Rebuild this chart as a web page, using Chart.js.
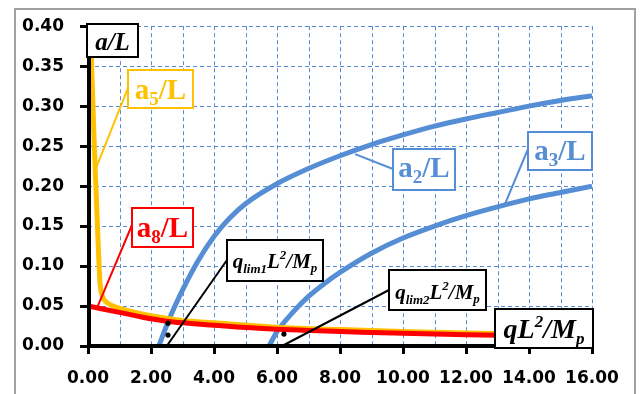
<!DOCTYPE html>
<html>
<head>
<meta charset="utf-8">
<script src="https://cdn.jsdelivr.net/npm/chart.js@4.4.1/dist/chart.umd.min.js"></script>
<style>
  html, body { margin: 0; padding: 0; background: #fff; }
  canvas { display: block; }
</style>
</head>
<body>
<canvas id="chart" width="643" height="394"></canvas>
<script>
// values (x = qL^2/Mp, y = a/L)
const a8X = [0, 0.5, 1, 1.5, 2, 2.5, 3, 4, 5, 6, 7, 8, 9, 10, 11, 12, 13, 14, 15, 16]
const a8Y = [0.050, 0.046, 0.042, 0.038, 0.034, 0.031, 0.029, 0.026, 0.023, 0.021, 0.0195, 0.018, 0.017, 0.016, 0.015, 0.0142, 0.0135, 0.013, 0.0122, 0.0116]

const a5X = [0.1, 0.2, 0.3, 0.38, 0.45, 0.55, 0.8, 1.1, 1.5, 2, 3, 4, 6, 8, 10, 12, 14, 16]
const a5Y = [0.37, 0.25, 0.15, 0.08, 0.063, 0.056, 0.05, 0.046, 0.042, 0.038, 0.032, 0.029, 0.0235, 0.0205, 0.0182, 0.0163, 0.015, 0.0138]

const a2X = [2.25, 2.5, 2.75, 3, 3.5, 4, 4.5, 5, 6, 7, 8, 9, 10, 11, 12, 13, 14, 15, 16]
const a2Y = [0, 0.026, 0.049, 0.07, 0.107, 0.137, 0.16, 0.178, 0.203, 0.222, 0.238, 0.252, 0.264, 0.275, 0.284, 0.292, 0.3, 0.307, 0.313]

const a3X = [5.75, 6, 6.5, 7, 7.5, 8, 9, 10, 11, 12, 13, 14, 15, 16]
const a3Y = [0, 0.018, 0.042, 0.062, 0.078, 0.092, 0.116, 0.135, 0.15, 0.163, 0.174, 0.184, 0.192, 0.2]

// small black dots near the limit loads
const markerX = [2.54, 2.54, 6.22]
const markerY = [0.0286, 0.0137, 0.0149]

const xGrid = [0, 1, 2, 3, 4, 5, 6, 7, 8, 9, 10, 11, 12, 13, 14, 15, 16]
const xLabels = [0, 2, 4, 6, 8, 10, 12, 14, 16]
const yLabels = [0, 0.05, 0.1, 0.15, 0.2, 0.25, 0.3, 0.35, 0.4]

const BLUE = '#558ED5'
const GOLD = '#FFC000'
const RED = '#FF0000'
const GRID = '#5A8AD2'

const pts = (xs, ys) => xs.map((x, i) => ({ x, y: ys[i] }))

// callout labels: box in px [x, y, w, h], baseline y, leader start px, leader end in data units
const callouts = [
  { box: [87, 24, 51, 33], base: 50, color: '#000', runs: [['a/L', 25, true, 0]] },
  { box: [128, 70, 65, 38], base: 99, color: GOLD, from: [128, 88], to: [0.22, 0.219],
    runs: [['a', 29, false, 0], ['5', 19, false, 6], ['/L', 29, false, 0]] },
  { box: [132, 208, 61, 39], base: 237, color: RED, from: [132, 225], to: [0.29, 0.048],
    runs: [['a', 29, false, 0], ['8', 19, false, 6], ['/L', 29, false, 0]] },
  { box: [393, 149, 62, 41], base: 177, color: BLUE, from: [393, 169], to: [8.48, 0.24],
    runs: [['a', 29, false, 0], ['2', 19, false, 6], ['/L', 29, false, 0]] },
  { box: [528, 132, 64, 38], base: 160, color: BLUE, from: [528, 149], to: [13.2, 0.174],
    runs: [['a', 29, false, 0], ['3', 19, false, 6], ['/L', 29, false, 0]] },
  { box: [227, 240, 96, 41], base: 268, color: '#000', from: [227, 260], to: [2.5, 0],
    runs: [['q', 21, true, 0], ['lim1', 13, true, 5], ['L', 21, true, 0], ['2', 13, true, -9], ['/M', 21, true, 0], ['p', 13, true, 4]] },
  { box: [389, 270, 97, 40], base: 299, color: '#000', from: [389, 290], to: [6.16, 0],
    runs: [['q', 21, true, 0], ['lim2', 13, true, 5], ['L', 21, true, 0], ['2', 13, true, -9], ['/M', 21, true, 0], ['p', 13, true, 4]] },
  { box: [495, 309, 98, 39], base: 338, color: '#000',
    runs: [['qL', 28, true, 0], ['2', 17, true, -11], ['/M', 28, true, 0], ['p', 17, true, 6]] }
]

const runFont = r => `${r[2] ? 'italic ' : ''}bold ${r[1]}px "Liberation Serif", serif`

// white background, grey outer frame and the dashed blue grid, all under the axes
const backdrop = {
  id: 'backdrop',
  beforeDraw(chart) {
    const { ctx, chartArea: a } = chart
    const sx = chart.scales.x, sy = chart.scales.y
    ctx.save()
    ctx.fillStyle = '#fff'
    ctx.fillRect(0, 0, chart.width, chart.height)
    ctx.strokeStyle = '#a0a0a0'
    ctx.lineWidth = 2
    ctx.strokeRect(15, 9, 620, 400)
    ctx.strokeStyle = GRID
    ctx.lineWidth = 1
    ctx.setLineDash([4, 3])
    xGrid.forEach(v => {
      const px = Math.round(sx.getPixelForValue(v)) + 0.5
      ctx.beginPath()
      ctx.moveTo(px, a.top)
      ctx.lineTo(px, a.bottom)
      ctx.stroke()
    })
    yLabels.forEach(v => {
      const py = Math.round(sy.getPixelForValue(v)) + 0.5
      ctx.beginPath()
      ctx.moveTo(a.left, py)
      ctx.lineTo(a.right, py)
      ctx.stroke()
    })
    ctx.restore()
  }
}

const labels = {
  id: 'labels',
  afterDatasetsDraw(chart) {
    const { ctx, chartArea: a } = chart
    const sx = chart.scales.x, sy = chart.scales.y
    ctx.save()
    // thick black axis lines over the curves
    ctx.strokeStyle = '#000'
    ctx.lineWidth = 4
    ctx.beginPath()
    ctx.moveTo(a.left + 1, a.top)
    ctx.lineTo(a.left + 1, a.bottom + 2)
    ctx.moveTo(a.left - 1, a.bottom)
    ctx.lineTo(a.right + 2, a.bottom)
    ctx.stroke()
    callouts.forEach(c => {
      if (c.from) {
        ctx.strokeStyle = c.color
        ctx.lineWidth = 2
        ctx.beginPath()
        ctx.moveTo(c.from[0], c.from[1])
        ctx.lineTo(sx.getPixelForValue(c.to[0]), sy.getPixelForValue(c.to[1]))
        ctx.stroke()
      }
    })
    callouts.forEach(c => {
      const [bx, by, bw, bh] = c.box
      ctx.fillStyle = '#fff'
      ctx.fillRect(bx, by, bw, bh)
      ctx.strokeStyle = c.color
      ctx.lineWidth = 2
      ctx.strokeRect(bx, by, bw, bh)
      let w = 0
      const widths = c.runs.map(r => {
        ctx.font = runFont(r)
        const m = ctx.measureText(r[0]).width
        w += m
        return m
      })
      let x = bx + (bw - w) / 2
      ctx.fillStyle = c.color
      ctx.textBaseline = 'alphabetic'
      ctx.textAlign = 'left'
      c.runs.forEach((r, i) => {
        ctx.font = runFont(r)
        ctx.fillText(r[0], x, c.base + r[3])
        x += widths[i]
      })
    })
    ctx.restore()
  }
}

const lineSet = (xs, ys, color) => ({
  data: pts(xs, ys),
  showLine: true,
  borderColor: color,
  borderWidth: 5,
  pointRadius: 0,
  cubicInterpolationMode: 'monotone',
  fill: false
})

const tickFont = { family: 'DejaVu Sans', size: 17, weight: 'bold' }

new Chart(document.getElementById('chart'), {
  type: 'scatter',
  data: {
    datasets: [
      { data: pts(markerX, markerY), pointRadius: 2.6, pointBackgroundColor: '#000', pointBorderWidth: 0 },
      lineSet(a8X, a8Y, RED),
      lineSet(a5X, a5Y, GOLD),
      lineSet(a2X, a2Y, BLUE),
      lineSet(a3X, a3Y, BLUE)
    ]
  },
  options: {
    responsive: false,
    animation: false,
    devicePixelRatio: 1,
    layout: { padding: { left: 0, right: 51, top: 24, bottom: 0 } },
    plugins: { legend: { display: false }, tooltip: { enabled: false } },
    scales: {
      x: {
        type: 'linear',
        min: 0,
        max: 16,
        afterBuildTicks: s => { s.ticks = xGrid.map(v => ({ value: v })) },
        afterFit: s => { s.height = 48 },
        ticks: {
          autoSkip: false,
          maxRotation: 0,
          color: '#000',
          font: tickFont,
          padding: 14,
          callback: v => xLabels.includes(v) ? v.toFixed(2) : ''
        },
        grid: {
          drawOnChartArea: false,
          color: '#000',
          tickLength: 8,
          tickWidth: 3,
          tickColor: ctx => xLabels.includes(ctx.tick && ctx.tick.value) ? '#000' : 'rgba(0,0,0,0)'
        },
        border: { display: false }
      },
      y: {
        type: 'linear',
        min: 0,
        max: 0.4,
        afterBuildTicks: s => { s.ticks = yLabels.map(v => ({ value: v })) },
        afterFit: s => { s.width = 88 },
        ticks: {
          color: '#000',
          font: tickFont,
          padding: 16,
          callback: v => v.toFixed(2)
        },
        grid: {
          drawOnChartArea: false,
          color: '#000',
          tickLength: 8,
          tickWidth: 3,
          tickColor: '#000'
        },
        border: { display: false }
      }
    }
  },
  plugins: [backdrop, labels]
})
</script>
</body>
</html>
